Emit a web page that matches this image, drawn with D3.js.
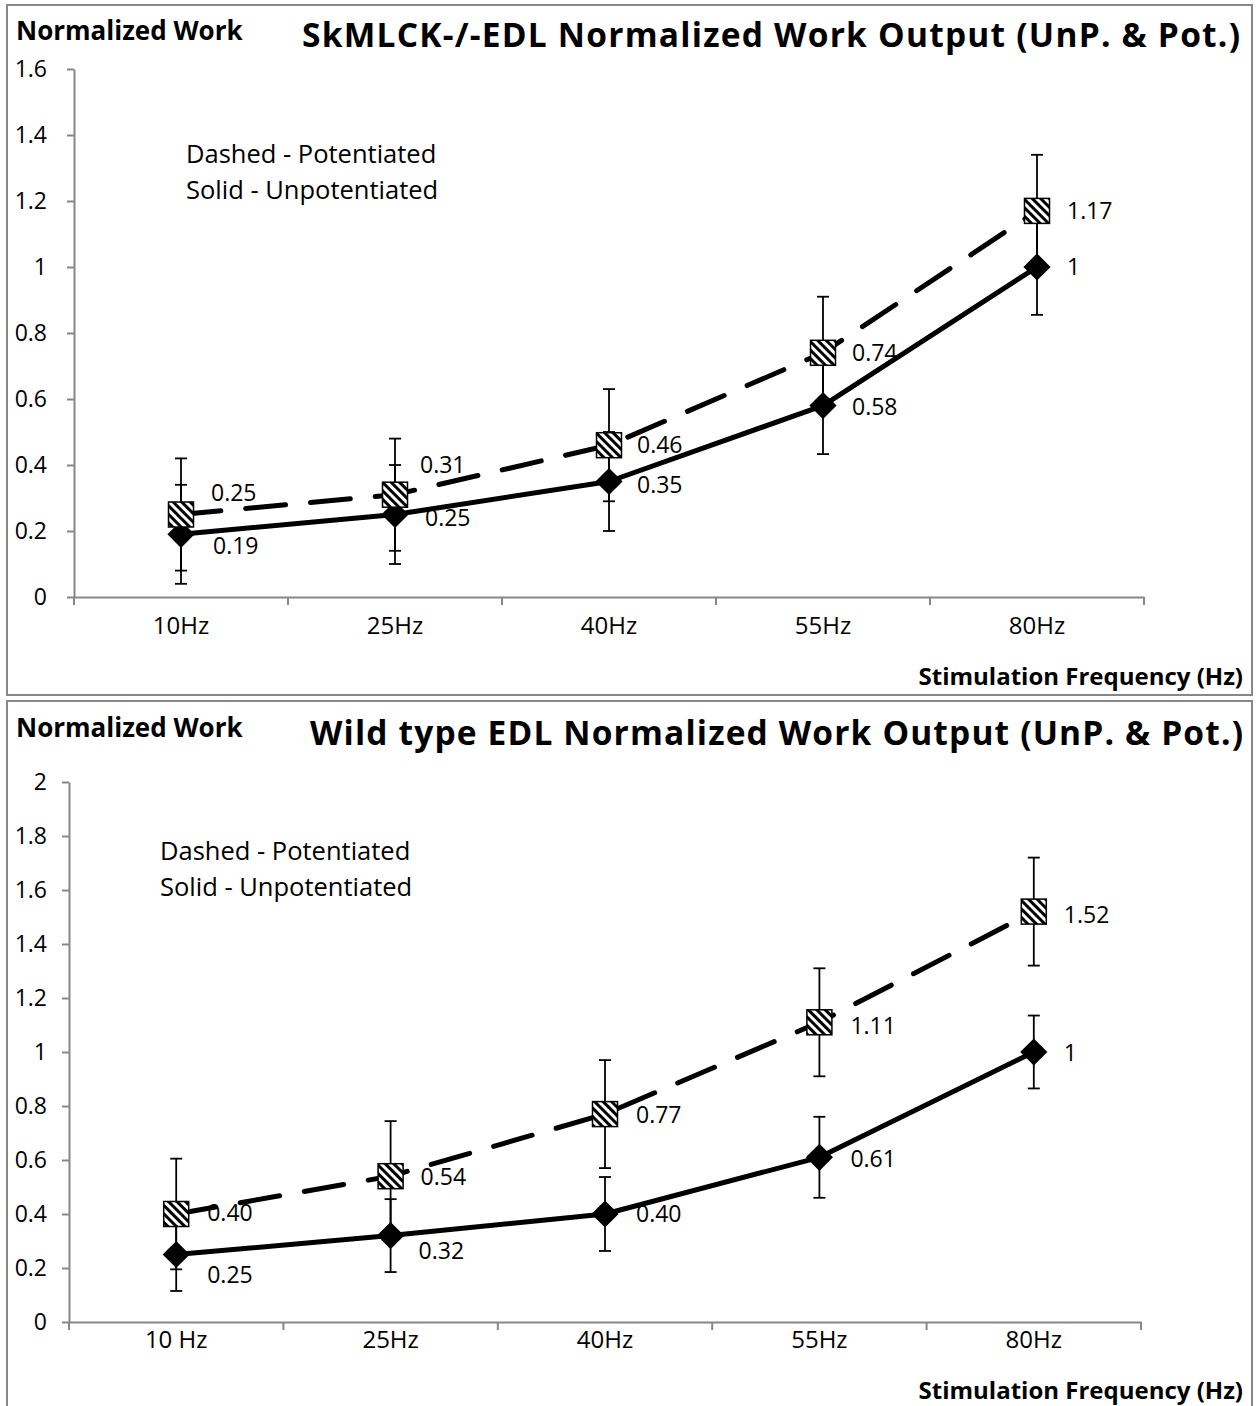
<!DOCTYPE html>
<html>
<head>
<meta charset="utf-8">
<script src="https://cdn.jsdelivr.net/npm/d3@7"></script>
<style>
  body { margin: 0; background: #fff; }
  text { font-family: "Open Sans", "Liberation Sans", sans-serif; fill: #000; }
</style>
</head>
<body>
<svg id="chart" width="1258" height="1406"></svg>
<script>
// ---- SkMLCK-/- EDL ----
const categoriesTop = ["10Hz", "25Hz", "40Hz", "55Hz", "80Hz"];
const potentiatedTop = [0.25, 0.31, 0.46, 0.74, 1.17];
const potentiatedTopErr = [0.17, 0.17, 0.17, 0.17, 0.17];
const unpotentiatedTop = [0.19, 0.25, 0.35, 0.58, 1];
const unpotentiatedTopErr = [0.15, 0.15, 0.15, 0.147, 0.145];
const potentiatedTopLabels = ["0.25", "0.31", "0.46", "0.74", "1.17"];
const unpotentiatedTopLabels = ["0.19", "0.25", "0.35", "0.58", "1"];
const yTicksTop = [0, 0.2, 0.4, 0.6, 0.8, 1, 1.2, 1.4, 1.6];

// ---- Wild type EDL ----
const categoriesBottom = ["10 Hz", "25Hz", "40Hz", "55Hz", "80Hz"];
const potentiatedBottom = [0.40, 0.54, 0.77, 1.11, 1.52];
const potentiatedBottomErr = [0.205, 0.204, 0.2, 0.2, 0.2];
const unpotentiatedBottom = [0.25, 0.32, 0.40, 0.61, 1];
const unpotentiatedBottomErr = [0.135, 0.135, 0.137, 0.15, 0.135];
const potentiatedBottomLabels = ["0.40", "0.54", "0.77", "1.11", "1.52"];
const unpotentiatedBottomLabels = ["0.25", "0.32", "0.40", "0.61", "1"];
const yTicksBottom = [0, 0.2, 0.4, 0.6, 0.8, 1, 1.2, 1.4, 1.6, 1.8, 2];

const svg = d3.select("#chart");
const AXIS_GREY = "#878787";

// diagonal hatch used to fill the square markers
const defs = svg.append("defs");
const pat = defs.append("pattern")
  .attr("id", "hatch")
  .attr("patternUnits", "userSpaceOnUse")
  .attr("width", 6).attr("height", 6)
  .attr("patternTransform", "rotate(-45)");
pat.append("rect").attr("width", 6).attr("height", 6).attr("fill", "#fff");
pat.append("rect").attr("width", 3).attr("height", 6).attr("fill", "#000");

function drawPanel(p) {
  const g = svg.append("g");

  // frame around the panel
  g.append("rect")
    .attr("x", p.box[0]).attr("y", p.box[1])
    .attr("width", p.box[2]).attr("height", p.box[3])
    .attr("fill", "#fff").attr("stroke", AXIS_GREY).attr("stroke-width", 2);

  const x = d3.scaleBand().domain(p.categories).range([p.plot.x0, p.plot.x1]).padding(0);
  const y = d3.scaleLinear().domain([0, p.yMax]).range([p.plot.y0, p.plot.y1]);
  const cx = i => x(p.categories[i]) + x.bandwidth() / 2;

  // y axis
  const yAxis = g.append("g")
    .attr("transform", `translate(${p.plot.x0},0)`)
    .call(d3.axisLeft(y).tickValues(p.yTicks).tickSize(7).tickSizeOuter(0)
      .tickPadding(p.yPad).tickFormat(d => String(d)));
  yAxis.select(".domain").attr("stroke", AXIS_GREY).attr("stroke-width", 2);
  yAxis.selectAll(".tick line").attr("stroke", AXIS_GREY).attr("stroke-width", 2);
  yAxis.selectAll(".tick text").attr("font-size", 23).style("font-family", "'Open Sans', sans-serif");

  // x axis with ticks at category boundaries
  const xAxis = g.append("g")
    .attr("transform", `translate(0,${p.plot.y0})`)
    .call(d3.axisBottom(x).tickSize(0).tickPadding(p.xPad));
  xAxis.select(".domain").attr("stroke", AXIS_GREY).attr("stroke-width", 2);
  xAxis.selectAll(".tick text").attr("font-size", 24).style("font-family", "'Open Sans', sans-serif");
  const bounds = p.categories.map(c => x(c)).concat([x.range()[1]]);
  xAxis.selectAll(".bound").data(bounds).enter().append("line")
    .attr("class", "bound")
    .attr("x1", d => d).attr("x2", d => d)
    .attr("y1", 0).attr("y2", 8)
    .attr("stroke", AXIS_GREY).attr("stroke-width", 2);

  // connecting lines
  const line = d3.line().x((d, i) => cx(i)).y(d => y(d));
  g.append("path").datum(p.unpot)
    .attr("d", line).attr("fill", "none")
    .attr("stroke", "#000").attr("stroke-width", 5).attr("stroke-linejoin", "round");
  g.append("path").datum(p.pot)
    .attr("d", line).attr("fill", "none")
    .attr("stroke", "#000").attr("stroke-width", 5)
    .attr("stroke-dasharray", "40,25").attr("stroke-linecap", "round");

  // error bars
  function errorBars(vals, errs) {
    const eg = g.append("g").attr("stroke", "#000").attr("stroke-width", 1.8);
    vals.forEach((v, i) => {
      const xi = cx(i), lo = y(v - errs[i]), hi = y(v + errs[i]);
      eg.append("line").attr("x1", xi).attr("x2", xi).attr("y1", lo).attr("y2", hi);
      eg.append("line").attr("x1", xi - 6).attr("x2", xi + 6).attr("y1", lo).attr("y2", lo);
      eg.append("line").attr("x1", xi - 6).attr("x2", xi + 6).attr("y1", hi).attr("y2", hi);
    });
  }
  errorBars(p.unpot, p.unpotErr);
  errorBars(p.pot, p.potErr);

  // markers
  const diamond = d3.symbol().type(d3.symbolSquare).size(370);
  g.selectAll(".dia").data(p.unpot).enter().append("path")
    .attr("d", diamond)
    .attr("transform", (d, i) => `translate(${cx(i)},${y(d)}) rotate(45)`)
    .attr("fill", "#000");
  g.selectAll(".sq").data(p.pot).enter().append("rect")
    .attr("x", (d, i) => cx(i) - 12.5).attr("y", d => y(d) - 12.5)
    .attr("width", 25).attr("height", 25)
    .attr("fill", "url(#hatch)").attr("stroke", "#000").attr("stroke-width", 1.5);

  // value labels
  function labels(vals, texts, offs) {
    g.selectAll(null).data(vals).enter().append("text")
      .attr("x", (d, i) => cx(i) + offs[i][0])
      .attr("y", (d, i) => y(d) + offs[i][1])
      .attr("dy", "0.36em")
      .attr("font-size", 23)
      .text((d, i) => texts[i]);
  }
  labels(p.pot, p.potLabels, p.potOff);
  labels(p.unpot, p.unpotLabels, p.unpotOff);

  // titles and notes
  g.append("text").attr("x", 16).attr("y", p.box[1] + p.nwDy)
    .attr("font-size", 26).attr("font-weight", 700).text("Normalized Work");
  g.append("text").attr("x", p.titleX).attr("y", p.box[1] + p.titleDy)
    .attr("font-size", 33.5).attr("font-weight", 700)
    .attr("textLength", p.titleW).attr("lengthAdjust", "spacing")
    .text(p.title);
  g.append("text").attr("x", 1243).attr("y", p.axisTitleY)
    .attr("text-anchor", "end").attr("font-size", 24).attr("font-weight", 700)
    .text("Stimulation Frequency (Hz)");
  g.append("text").attr("x", p.legend[0]).attr("y", p.legend[1])
    .attr("font-size", 25.5).text("Dashed - Potentiated");
  g.append("text").attr("x", p.legend[0]).attr("y", p.legend[1] + 36)
    .attr("font-size", 25.5).text("Solid - Unpotentiated");
}

drawPanel({
  box: [7, 5, 1245, 690],
  plot: { x0: 74, x1: 1144, y0: 597, y1: 69 },
  categories: categoriesTop, yMax: 1.6, yTicks: yTicksTop, yPad: 20, xPad: 20,
  pot: potentiatedTop, potErr: potentiatedTopErr, potLabels: potentiatedTopLabels,
  unpot: unpotentiatedTop, unpotErr: unpotentiatedTopErr, unpotLabels: unpotentiatedTopLabels,
  potOff: [[30, -22], [25, -30], [28, 0], [29, 0], [30, 0]],
  unpotOff: [[32, 11], [30, 3], [28, 3], [29, 1], [30, 0]],
  title: "SkMLCK-/-EDL Normalized Work Output (UnP. & Pot.)", titleX: 302, titleW: 938,
  nwDy: 35, titleDy: 42,
  axisTitleY: 685, legend: [186, 163]
});

drawPanel({
  box: [7, 701, 1245, 710],
  plot: { x0: 69, x1: 1141, y0: 1322, y1: 782 },
  categories: categoriesBottom, yMax: 2, yTicks: yTicksBottom, yPad: 15, xPad: 9,
  pot: potentiatedBottom, potErr: potentiatedBottomErr, potLabels: potentiatedBottomLabels,
  unpot: unpotentiatedBottom, unpotErr: unpotentiatedBottomErr, unpotLabels: unpotentiatedBottomLabels,
  potOff: [[31, -1], [30, 1], [31, 1], [31, 3], [30, 3]],
  unpotOff: [[31, 20], [28, 15], [31, 0], [31, 1], [30, 1]],
  title: "Wild type EDL Normalized Work Output (UnP. & Pot.)", titleX: 310, titleW: 933,
  nwDy: 36, titleDy: 44,
  axisTitleY: 1399, legend: [160, 860]
});
</script>
</body>
</html>
